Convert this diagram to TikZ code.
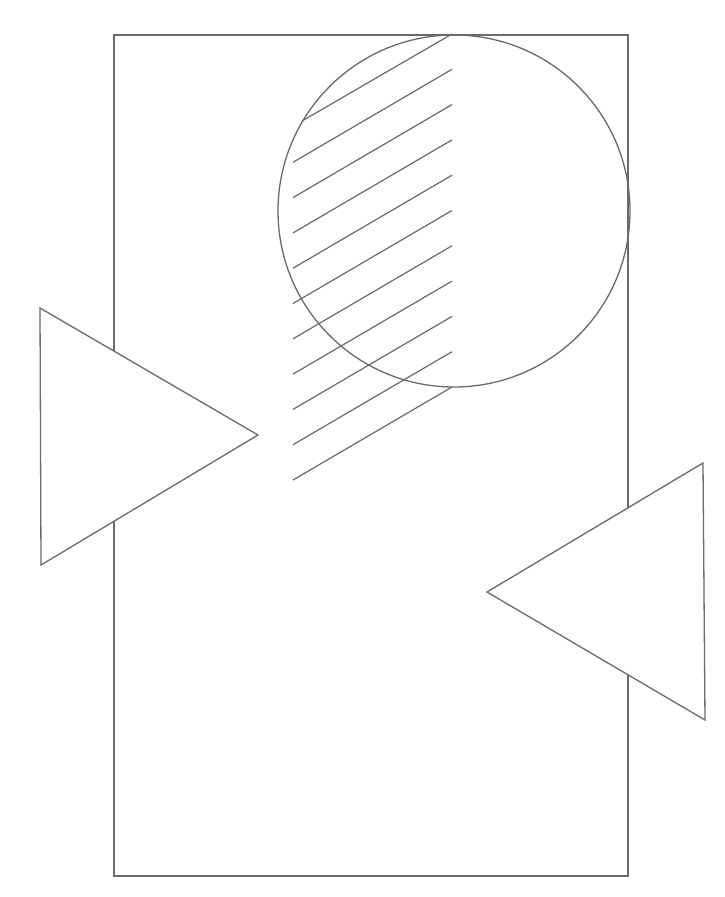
\documentclass[tikz,border=0pt]{standalone}
\usepackage{tikz}
\definecolor{inkgray}{HTML}{6A6A6A}
\begin{document}
\begin{tikzpicture}[x=1pt,y=-1pt,
  outline/.style={draw=inkgray,line width=1.3pt,line join=miter},
  hatchline/.style={draw=inkgray,line width=1.2pt},
  tri/.style={outline,fill=white}]
\useasboundingbox[fill=white] (0,0) rectangle (724,897);
% frame rectangle
\coordinate (rA) at (114,35);
\coordinate (rB) at (628,876);
\draw[outline] (rA) rectangle (rB);
% circle
\coordinate (cc) at (454,211);
\draw[outline] (cc) circle[radius=176];
% hatching
\draw[hatchline] (452,34) -- (302,121);
\foreach \k in {1,...,10}{
  \draw[hatchline] (452,{34+35.3*\k}) -- (293,{127+35.3*\k});
}
% left triangle
\coordinate (l1) at (40,308);
\coordinate (l2) at (258,435);
\coordinate (l3) at (41,565);
\draw[tri] (l1) -- (l2) -- (l3) -- cycle;
% right triangle
\coordinate (t1) at (703,463);
\coordinate (t2) at (487,592);
\coordinate (t3) at (705,720);
\draw[tri] (t1) -- (t2) -- (t3) -- cycle;
\end{tikzpicture}
\end{document}
